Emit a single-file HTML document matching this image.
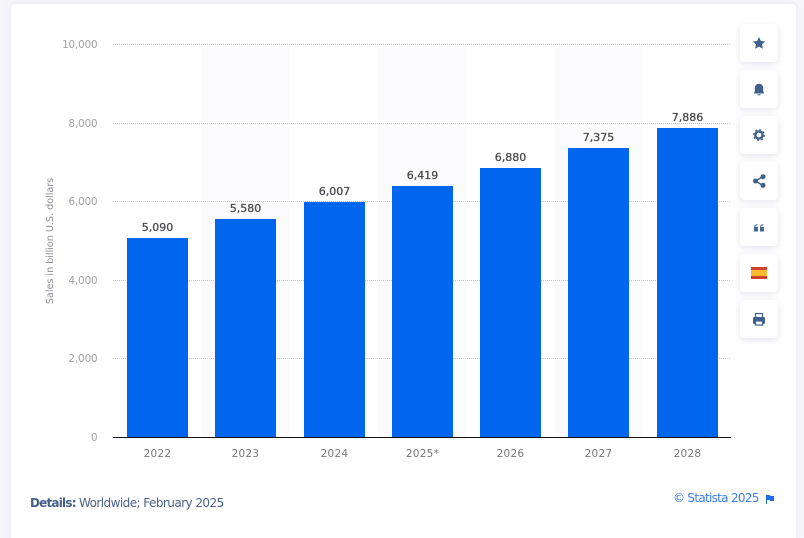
<!DOCTYPE html>
<html lang="en">
<head>
<meta charset="utf-8">
<title>Sales in billion U.S. dollars</title>
<style>
html,body{margin:0;padding:0;width:804px;height:538px;overflow:hidden;background:#f5f5fa;}
body{position:relative;font-family:"DejaVu Sans","Liberation Sans",sans-serif;}
#card{position:absolute;left:11px;top:4px;width:785px;height:540px;background:#fff;border-radius:4px;box-shadow:0 0 6px rgba(220,220,235,.5);}
#chart{position:absolute;left:0;top:0;}
.tool{position:absolute;left:740px;width:38px;height:38px;background:#fff;border-radius:4px;box-shadow:0 2px 7px rgba(190,190,215,.4);display:block;}
.tool svg{position:absolute;left:0;top:0;}
#details{position:absolute;left:30px;top:495px;font:12px "DejaVu Sans",sans-serif;letter-spacing:-.55px;color:#4a6388;white-space:nowrap;line-height:17px;}
#details b{color:#45618a;letter-spacing:-.8px;}
#copyright{position:absolute;left:673px;top:490px;font:12px "DejaVu Sans",sans-serif;letter-spacing:-.7px;color:#3b7ff0;white-space:nowrap;line-height:17px;}
#flag{position:absolute;left:765px;top:494px;}
</style>
</head>
<body>
<div id="card"></div>
<svg id="chart" width="804" height="538" xmlns="http://www.w3.org/2000/svg"></svg>

<a class="tool" style="top:24px"><svg width="38" height="38"><polygon points="19,13 20.9,17 25.2,17.5 22,20.4 22.9,24.7 19,22.6 15.1,24.7 16,20.4 12.8,17.5 17.1,17" fill="#3f5f8c"/></svg></a>
<a class="tool" style="top:70px"><svg width="38" height="38"><path d="M14 23.5c0-1 .8-1.2.8-3v-2.3c0-2.6 1.8-4.4 4.2-4.4s4.2 1.800 4.2 4.400v2.300c0 1.800.8 2 .8 3z" fill="#3f5f8c"/><rect x="17.500" y="24.300" width="3" height="1" fill="#3f5f8c"/></svg></a>
<a class="tool" style="top:116px"><svg width="38" height="38"><circle cx="19" cy="19" r="3.600" fill="none" stroke="#3f5f8c" stroke-width="2.400"/><circle cx="19" cy="19" r="5.300" fill="none" stroke="#3f5f8c" stroke-width="1.200" stroke-dasharray="2 2.160"/></svg></a>
<a class="tool" style="top:162px"><svg width="38" height="38"><path d="M23 14.500L15.500 19L23 23.500" fill="none" stroke="#3f5f8c" stroke-width="1.500"/><circle cx="23" cy="14.700" r="2.500" fill="#3f5f8c"/><circle cx="15.500" cy="19" r="2.500" fill="#3f5f8c"/><circle cx="23" cy="23.300" r="2.500" fill="#3f5f8c"/></svg></a>
<a class="tool" style="top:208px"><svg width="38" height="38"><path d="M14 19h4v4.500h-4zM20 19h4v4.500h-4z" fill="#46688f"/><path d="M14.700 19.500v-1c0-1 .6-1.500 2.800-1.700M20.700 19.500v-1c0-1 .6-1.500 2.800-1.700" fill="none" stroke="#46688f" stroke-width="1.100"/></svg></a>
<a class="tool" style="top:254px"><svg width="38" height="38"><rect x="11" y="13" width="16" height="12" fill="#d0402a"/><rect x="11" y="16" width="16" height="6" fill="#fbb92f"/></svg></a>
<a class="tool" style="top:300px"><svg width="38" height="38"><rect x="13" y="17" width="12" height="7" rx="1.500" fill="#3f5f8c"/><rect x="15.500" y="13.500" width="7" height="4" fill="#fff" stroke="#3f5f8c" stroke-width="1.200"/><rect x="15.500" y="21" width="7" height="4" fill="#fff" stroke="#3f5f8c" stroke-width="1.200"/></svg></a>

<div id="details"><b>Details:</b> Worldwide; February 2025</div>
<a id="copyright">© Statista 2025</a>
<svg id="flag" width="10" height="10"><path d="M1 1h4l.5 1H9v5H5l-.5-1H2v4H1z" fill="#1a6fe8"/></svg>

<script>
var categories = ["2022","2023","2024","2025*","2026","2027","2028"];
var salesValues = [5090,5580,6007,6419,6880,7375,7886];
var valueLabels = ["5,090","5,580","6,007","6,419","6,880","7,375","7,886"];
var yTicks = [0,2000,4000,6000,8000,10000];
var yTickLabels = ["0","2,000","4,000","6,000","8,000","10,000"];
var yTitle = "Sales in billion U.S. dollars";

var NS = "http://www.w3.org/2000/svg";
var svg = document.getElementById("chart");
var plotLeft = 113, plotRight = 731, plotTop = 44, plotBottom = 437, yMax = 10000;
var band = (plotRight - plotLeft) / categories.length;
var barWidth = 61;
function yScale(v){ return plotBottom - (v / yMax) * (plotBottom - plotTop); }
function xCenter(i){ return plotLeft + band * (i + 0.5); }
function make(tag, attrs, parent){
  var el = document.createElementNS(NS, tag);
  for (var k in attrs) el.setAttribute(k, attrs[k]);
  (parent || svg).appendChild(el);
  return el;
}

categories.forEach(function(c, i){
  if (i % 2 === 1) {
    var stripe = make("rect", {x: xCenter(i) - band/2, y: plotTop + 4, width: band, height: plotBottom - plotTop - 4, fill: "#fbfafd"});
    
    
  }
});

yTicks.forEach(function(t, i){
  var y = Math.round(yScale(t));
  if (t !== 0) {
    var line = make("line", {x1: plotLeft, x2: plotRight, y1: y + 0.5, y2: y + 0.5, stroke: "#c8c8cc", "stroke-width": 1, "stroke-dasharray": "1 1"});
    
    
  }
  var label = make("text", {x: 97.500, y: y + 4, "text-anchor": "end", fill: "#a0a0a6", "font-size": "10.3", "letter-spacing": "-0.1", "font-family": '"DejaVu Sans",sans-serif'});
  label.textContent = yTickLabels[i];
  
  
});

categories.forEach(function(c, i){
  var top = Math.round(yScale(salesValues[i])) + 1;
  var left = Math.round(xCenter(i) - barWidth/2 + 0.3);
  var bar = make("rect", {x: left, y: top, width: barWidth, height: plotBottom - top, fill: "#0066ee"});
  
  

  var val = make("text", {x: left + barWidth/2, y: top - 7, "text-anchor": "middle", fill: "#4a4a50", stroke: "#4a4a50", "stroke-width": "0.3", "font-size": "11", "font-family": '"DejaVu Sans",sans-serif'});
  val.textContent = valueLabels[i];
  
  

  var cat = make("text", {x: left + barWidth/2, y: 457, "text-anchor": "middle", fill: "#76767c", "font-size": "10.5", "letter-spacing": "0.25", "font-family": '"DejaVu Sans",sans-serif'});
  cat.textContent = c;
  
  
});

var axis = make("line", {x1: plotLeft, x2: plotRight, y1: plotBottom + 0.5, y2: plotBottom + 0.5, stroke: "#111", "stroke-width": 1});



var title = make("text", {transform: "translate(53,241) rotate(-90)", "text-anchor": "middle", fill: "#8f8f96", "font-size": "9.7", "letter-spacing": "-0.05", "font-family": '"DejaVu Sans",sans-serif'});
title.textContent = yTitle;


</script>
</body>
</html>
